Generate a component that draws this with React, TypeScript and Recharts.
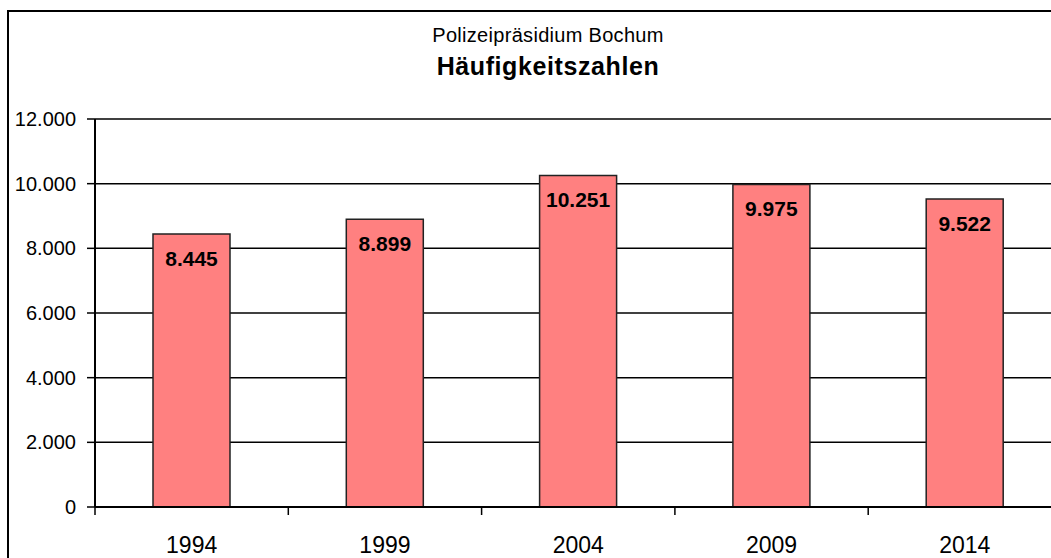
import React from 'react';
import { BarChart, Bar, XAxis, YAxis, CartesianGrid, LabelList } from 'recharts';

const years = ['1994', '1999', '2004', '2009', '2014'];
const haeufigkeitszahlen = [8445, 8899, 10251, 9975, 9522];
const yTicks = [0, 2000, 4000, 6000, 8000, 10000, 12000];

const FONT = '"Liberation Sans", Arial, sans-serif';

// german thousands separator: 12000 -> "12.000"
const formatDe = (v: number) => String(v).replace(/\B(?=(\d{3})+(?!\d))/g, '.');

// year label at the band centre, tick marks on the band edges (like Excel)
const YearTick = (props: any) => {
  const { x, y, payload, index, visibleTicksCount } = props;
  const half = payload?.offset ?? 0;
  const isLast = index === visibleTicksCount - 1;
  return (
    <g>
      <line x1={x - half} x2={x - half} y1={y} y2={y + 8} stroke="#000" strokeWidth={1.5} />
      {isLast && <line x1={x + half} x2={x + half} y1={y} y2={y + 8} stroke="#000" strokeWidth={1.5} />}
      <text x={x} y={y + 30} dy="0.71em" textAnchor="middle" fill="#000" fontSize={23} fontFamily={FONT}>
        {payload.value}
      </text>
    </g>
  );
};

const App = () => {
  const data = React.useMemo(
    () => years.map((year, i) => ({ year, value: haeufigkeitszahlen[i] })),
    []
  );

  return (
    <div
      style={{
        position: 'absolute',
        left: 0,
        top: 0,
        width: 1051,
        height: 558,
        overflow: 'hidden',
        background: '#fff',
        fontFamily: FONT,
      }}
    >
      <div
        style={{
          position: 'absolute',
          left: 7,
          top: 10,
          width: 1100,
          height: 600,
          border: '2px solid #000',
          boxSizing: 'border-box',
        }}
      />
      <svg width={1051} height={100} style={{ position: 'absolute', left: 0, top: 0 }}>
        <text x={548} y={42} textAnchor="middle" fontFamily={FONT} fontSize={20} letterSpacing={0.3} fill="#000">
          Polizeipräsidium Bochum
        </text>
        <text x={548} y={75} textAnchor="middle" fontFamily={FONT} fontSize={25} fontWeight="bold" letterSpacing={0.6} fill="#000">
          Häufigkeitszahlen
        </text>
      </svg>
      <div style={{ position: 'absolute', left: 0, top: 0 }}>
        <BarChart
          width={1080}
          height={600}
          data={data}
          margin={{ top: 119, right: 18.5, left: 5, bottom: 33 }}
        >
          <CartesianGrid vertical={false} stroke="#000" strokeWidth={1.5} />
          <XAxis
            dataKey="year"
            height={60}
            tickSize={0}
            tickMargin={0}
            tickLine={false}
            axisLine={{ stroke: '#000', strokeWidth: 2 }}
            interval={0}
            tick={<YearTick />}
          />
          <YAxis
            width={90}
            domain={[0, 12000]}
            ticks={yTicks}
            interval={0}
            tickFormatter={formatDe}
            tickSize={8}
            tickMargin={11}
            tickLine={{ stroke: '#000', strokeWidth: 1.5 }}
            axisLine={{ stroke: '#000', strokeWidth: 2 }}
            tick={{ fill: '#000', fontSize: 20, fontFamily: FONT }}
          />
          <Bar
            dataKey="value"
            barSize={77}
            fill="#FF8080"
            stroke="#222"
            strokeWidth={1.5}
            isAnimationActive={false}
          >
            <LabelList
              dataKey="value"
              position="insideTop"
              offset={17}
              formatter={(v: any) => formatDe(Number(v))}
              style={{ fill: '#000', fontSize: 21, fontWeight: 'bold', fontFamily: FONT }}
            />
          </Bar>
        </BarChart>
      </div>
    </div>
  );
};

export default App;
